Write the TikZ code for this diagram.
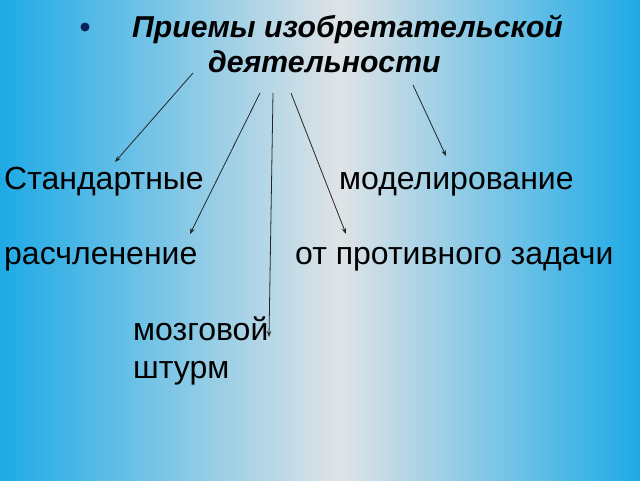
\documentclass[tikz,border=0pt]{standalone}
\usepackage{fontspec}
\setmainfont{Liberation Sans}
\usetikzlibrary{arrows.meta}
\definecolor{edgeblue}{RGB}{30,170,230}
\definecolor{midgray}{RGB}{223,227,230}
\definecolor{bulletblue}{RGB}{12,30,90}
\tikzset{
  body/.style={anchor=base west,inner sep=0pt,font=\fontsize{32}{38}\selectfont},
  ttl/.style={anchor=base west,inner sep=0pt,font=\fontsize{30.2}{36}\bfseries\itshape\selectfont},
  arr/.style={draw=black!85,line width=0.8pt,-{Stealth[length=6pt,width=4.5pt]}}
}
\begin{document}
\begin{tikzpicture}[x=1pt,y=-1pt]
\useasboundingbox (0,0) rectangle (640,480);
\shade[left color=edgeblue,right color=midgray] (0,0) rectangle (340,480);
\shade[left color=midgray,right color=edgeblue] (340,0) rectangle (640,480);
% title
\fill[bulletblue] (85,27) circle (4.5);
\node[ttl] (t1) at (132,37) {Приемы изобретательской};
\node[ttl] (t2) at (208,72) {деятельности};
% items
\node[body] (std) at (4,189) {Стандартные};
\node[body] (mod) at (339,189) {моделирование};
\node[body] (ras) at (4,264) {расчленение};
\node[body] (opp) at (295,264) {от противного задачи};
\node[body] (moz) at (133,340) {мозговой};
\node[body] (sht) at (133,378) {штурм};
% arrow points
\coordinate (s1) at (193,73);
\coordinate (e1) at (115,162);
\coordinate (s2) at (260,93);
\coordinate (e2) at (190,234);
\coordinate (s3) at (273,93);
\coordinate (e3) at (269,337);
\coordinate (s4) at (291,93);
\coordinate (e4) at (346,234);
\coordinate (s5) at (413,85);
\coordinate (e5) at (446,156);
\draw[arr] (s1) -- (e1);
\draw[arr] (s2) -- (e2);
\draw[arr] (s3) -- (e3);
\draw[arr] (s4) -- (e4);
\draw[arr] (s5) -- (e5);
\end{tikzpicture}
\end{document}
